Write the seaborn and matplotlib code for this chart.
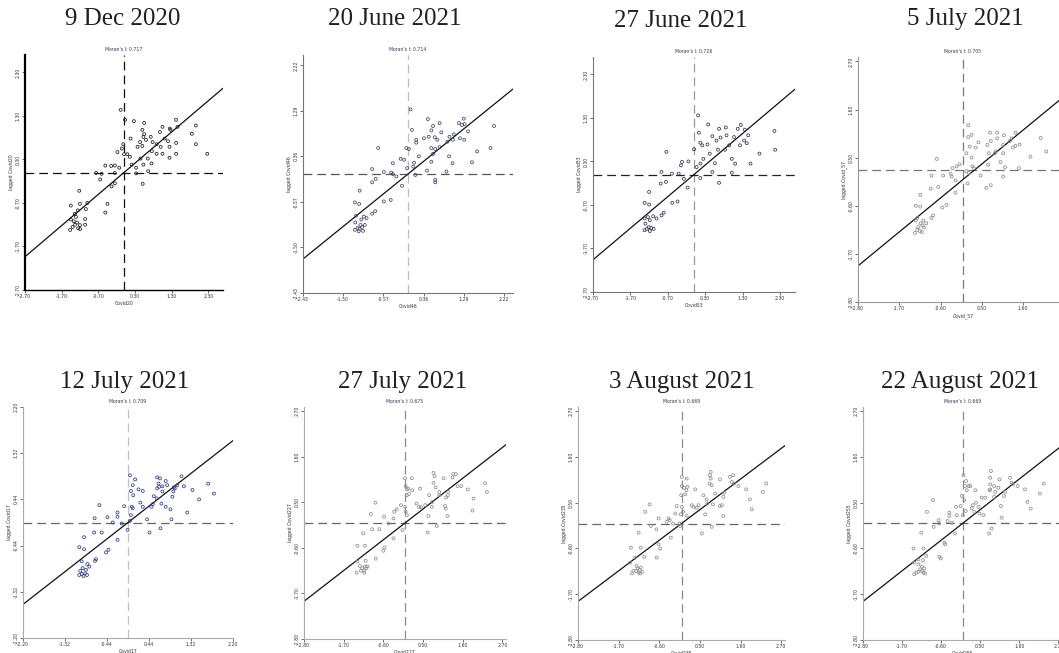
import matplotlib
matplotlib.use("Agg")
import matplotlib.pyplot as plt
import seaborn as sns
import pandas as pd

sns.set_style("ticks")
plt.rcParams['font.family'] = ['DejaVu Sans']

titles = ["9 Dec 2020", "20 June 2021", "27 June 2021", "5 July 2021",
          "12 July 2021", "27 July 2021", "3 August 2021", "22 August 2021"]
morans = [0.717, 0.714, 0.726, 0.705, 0.709, 0.675, 0.669, 0.669]
var_names = ["Covid20", "Covid46", "Covid53", "Covid_57",
             "Covid17", "Covid227", "Covid235", "Covid255"]
axis_limits = [2.70, 2.43, 2.70, 2.80, 2.20, 2.80, 2.80, 2.80]
tick_values = [
    [-2.70, -1.70, -0.70, 0.30, 1.30, 2.30],
    [-2.43, -1.50, -0.57, 0.36, 1.29, 2.22],
    [-2.70, -1.70, -0.70, 0.30, 1.30, 2.30],
    [-2.80, -1.70, -0.60, 0.50, 1.60, 2.70],
    [-2.20, -1.32, -0.44, 0.44, 1.32, 2.20],
    [-2.80, -1.70, -0.60, 0.50, 1.60, 2.70],
    [-2.80, -1.70, -0.60, 0.50, 1.60, 2.70],
    [-2.80, -1.70, -0.60, 0.50, 1.60, 2.70],
]
hline_values = [0.0, 0.0, 0.0, 0.22, 0.0, 0.0, 0.0, 0.02]

p1_points = [(-0.09,1.44),(0.03,1.21),(0.27,1.18),(0.55,1.14),(1.05,1.05),(1.42,1.21),(1.46,1.05),
    (1.25,1.01),(1.27,0.98),(1.96,1.08),(1.85,0.89),(1.96,0.65),(2.27,0.43),(0.50,0.98),(0.55,0.88),
    (0.53,0.82),(0.73,0.82),(0.60,0.75),(0.44,0.70),(0.18,0.78),(0.98,0.93),(1.11,0.78),(1.20,0.72),
    (0.78,0.70),(1.00,0.59),(1.24,0.59),(1.42,0.68),(0.89,0.65),(0.37,0.59),(0.50,0.61),(0.76,0.49),
    (0.89,0.43),(1.05,0.43),(1.24,0.34),(1.42,0.43),(-0.02,0.65),(0.00,0.42),(0.09,0.42),(0.16,0.36),
    (0.45,0.32),(0.65,0.32),(0.53,0.18),(0.75,0.21),(0.21,0.18),(0.33,0.11),(0.33,-0.02),(0.66,0.03),
    (0.51,-0.26),(-0.18,0.47),(-0.06,0.55),(-0.51,0.16),(-0.35,0.15),(-0.25,0.16),(-0.13,0.11),
    (-0.25,-0.01),(-0.76,-0.01),(-0.61,-0.03),(-0.65,-0.16),(-0.34,-0.32),(-0.25,-0.25),(-1.22,-0.42),
    (-1.20,-0.72),(-1.00,-0.70),(-1.45,-0.76),(-0.45,-0.72),(-0.51,-0.92),(-1.04,-0.84),(-1.26,-0.87),
    (-1.45,-1.08),(-1.34,-0.95),(-1.31,-1.02),(-1.37,-1.12),(-1.28,-1.15),(-1.20,-1.21),(-1.06,-1.07),
    (-1.06,-1.20),(-1.47,-1.32),(-1.40,-1.25),(-1.25,-1.28),(-1.20,-1.30),(-1.34,-1.20)]

p2_points = [(0.06,1.32),(0.09,0.90),(0.46,1.12),(0.73,1.04),(0.58,0.98),(0.54,0.89),(0.62,0.75),
    (0.68,0.70),(0.37,0.73),(0.19,0.70),(0.19,0.64),(0.48,0.76),(0.77,0.85),(0.91,0.66),(0.96,0.76),
    (1.06,0.81),(1.18,1.04),(1.29,1.13),(1.25,1.00),(1.31,1.02),(1.39,0.87),(1.20,0.73),(1.30,0.70),
    (1.04,0.70),(0.73,0.55),(0.54,0.53),(0.63,0.51),(0.58,0.41),(0.95,0.36),(1.03,0.22),(0.89,0.05),
    (0.44,0.07),(0.54,0.25),(0.63,-0.12),(0.63,-0.17),(0.25,0.36),(0.14,0.23),(0.12,0.15),(0.17,-0.02),
    (-0.04,0.53),(0.02,0.51),(-0.02,0.12),(-0.17,0.31),(-0.09,0.29),(-0.14,-0.24),(1.60,0.46),
    (1.48,0.24),(1.91,0.53),(1.99,0.98),(-0.69,0.53),(-0.35,0.22),(-0.39,0.03),(-0.35,0.00),
    (-0.56,0.04),(-0.27,-0.05),(-0.83,0.10),(-0.75,-0.10),(-0.83,-0.17),(-1.12,-0.34),(-0.56,-0.56),
    (-0.40,-0.53),(-1.23,-0.58),(-1.13,-0.61),(-0.76,-0.76),(-0.83,-0.81),(-1.20,-0.85),(-1.22,-0.99),
    (-1.23,-1.14),(-1.17,-1.10),(-1.12,-1.12),(-1.06,-1.08),(-1.08,-0.93),(-1.02,-0.87),(-0.96,-0.90),
    (-1.04,-1.16),(-1.14,-1.17),(-1.00,-1.04),(-1.10,-1.04)]

p3_points = [(0.11,1.36),(0.13,0.96),(0.38,1.15),(0.49,0.88),(0.67,1.05),(0.85,1.08),(0.60,0.78),
    (0.36,0.69),(0.17,0.73),(0.22,0.67),(0.87,0.90),(0.71,0.85),(1.07,0.86),(1.17,1.05),(1.25,1.14),
    (1.36,1.03),(1.45,0.90),(1.34,0.78),(1.23,0.67),(1.41,0.72),(0.94,0.67),(0.83,0.57),(0.64,0.57),
    (0.42,0.48),(0.56,0.26),(1.01,0.36),(1.10,0.25),(1.51,0.25),(1.75,0.48),(2.15,1.00),(2.17,0.57),
    (1.01,0.04),(0.67,-0.19),(0.49,0.06),(0.25,0.36),(0.17,0.25),(0.07,0.17),(0.17,-0.08),(0.00,0.58),
    (-0.15,0.30),(-0.35,0.21),(-0.32,0.29),(-0.27,-0.10),(-0.17,-0.30),(-0.41,0.02),(-0.59,0.02),
    (-0.74,0.52),(-0.87,0.06),(-0.89,-0.21),(-0.75,-0.17),(-0.44,-0.62),(-0.58,-0.65),(-1.20,-0.40),
    (-1.32,-0.65),(-1.20,-0.69),(-0.81,-0.88),(-0.87,-0.94),(-1.32,-1.01),(-1.23,-0.98),(-1.09,-0.96),
    (-1.00,-1.01),(-1.18,-1.05),(-1.30,-1.13),(-1.21,-1.21),(-1.32,-1.28),(-1.26,-1.25),(-1.14,-1.23),
    (-1.08,-1.25),(-1.18,-1.30)]

p4_points = [(0.14,1.24),(0.14,0.97),(0.23,1.02),(0.18,0.75),(0.09,0.60),(0.34,0.73),(0.23,0.50),
    (0.41,0.85),(0.25,0.30),(0.09,0.19),(0.16,0.15),(0.12,-0.09),(0.29,0.26),(0.72,1.07),(0.91,1.07),
    (1.09,1.01),(0.91,0.94),(0.65,0.79),(0.74,0.88),(0.87,0.64),(0.69,0.60),(0.85,0.60),(1.07,0.79),
    (1.30,0.94),(1.40,1.07),(1.33,0.73),(1.40,0.77),(1.51,0.80),(1.25,0.88),(1.07,0.60),(1.00,0.40),
    (1.12,0.28),(1.07,0.07),(1.49,0.26),(1.80,0.52),(2.07,0.95),(2.22,0.64),(0.67,0.34),(0.47,0.09),
    (0.62,-0.19),(0.74,-0.13),(-0.70,0.47),(-0.28,0.26),(-0.17,0.30),(-0.09,0.35),(-0.33,0.13),
    (-0.30,0.07),(-0.20,-0.02),(-0.20,-0.30),(-0.53,0.09),(-0.84,0.09),(-0.66,-0.17),(-0.86,-0.21),
    (-1.14,-0.35),(-0.55,-0.64),(-0.44,-0.58),(-0.80,-0.82),(-0.84,-0.88),(-1.26,-0.60),(-1.14,-0.62),
    (-1.26,-0.94),(-1.22,-0.88),(-1.06,-0.94),(-1.13,-1.00),(-0.98,-1.00),(-1.08,-1.05),(-1.28,-1.22),
    (-1.22,-1.15),(-1.15,-1.18),(-1.10,-1.20),(-1.19,-1.09),(-1.04,-1.10)]

p5_points = [(0.04,0.90),(0.10,0.71),(0.15,0.82),(0.22,0.63),(0.11,0.52),(0.06,0.60),(0.31,0.60),
    (0.08,0.30),(0.06,0.14),(0.10,0.27),(0.04,0.03),(0.26,0.38),(0.31,0.30),(0.40,0.06),(0.45,-0.19),
    (0.52,0.35),(0.54,0.50),(0.49,0.30),(0.61,0.86),(0.67,0.84),(0.64,0.74),(0.61,0.65),(0.65,0.68),
    (0.72,0.69),(0.72,0.59),(0.79,0.79),(0.82,0.71),(0.60,0.46),(0.70,0.36),(0.79,0.30),(0.89,0.25),
    (0.68,-0.11),(0.91,0.06),(0.93,0.49),(0.95,0.59),(0.98,0.65),(0.96,0.67),(1.03,0.71),(1.12,0.88),
    (1.17,0.69),(1.24,0.19),(1.35,0.62),(1.49,0.44),(1.68,0.74),(1.80,0.55),(-0.08,0.31),(-0.13,-0.02),
    (-0.01,-0.14),(-0.22,0.19),(-0.22,0.11),(-0.22,-0.33),(-0.32,0.00),(-0.60,0.33),(-0.43,0.10),
    (-0.70,0.08),(-0.71,-0.19),(-0.55,-0.19),(-0.92,-0.28),(-1.02,-0.47),(-0.92,-0.51),(-0.46,-0.57),
    (-0.41,-0.52),(-0.69,-0.73),(-0.67,-0.70),(-0.97,-0.74),(-0.85,-0.79),(-0.81,-0.84),(-0.88,-0.90),
    (-1.00,-0.92),(-0.95,-0.87),(-1.02,-1.00),(-0.97,-0.98),(-0.90,-0.97),(-0.86,-1.00),(-0.93,-1.02)]

p6_points = [(0.00,1.08),(0.02,0.89),(0.19,1.08),(0.05,0.81),(0.09,0.83),(0.05,0.67),(0.11,0.70),
    (0.20,0.79),(0.02,0.27),(0.05,0.19),(0.00,0.39),(-0.07,-0.17),(-0.11,0.43),(-0.23,0.33),(-0.30,0.27),
    (-0.32,0.11),(-0.32,-0.37),(-0.46,-0.01),(-0.58,0.15),(-0.82,0.49),(-0.95,0.22),(-0.91,-0.15),
    (-0.71,-0.15),(-1.16,-0.25),(-1.32,-0.55),(-1.11,-0.55),(-0.60,-0.67),(-0.57,-0.59),(-0.81,-0.86),
    (-1.32,-0.93),(-1.25,-1.04),(-1.19,-1.09),(-1.11,-1.05),(-1.34,-1.20),(-1.22,-1.15),(-1.13,-1.15),
    (-1.07,-1.09),(-1.09,-0.91),(-1.13,-1.20),(-1.04,-1.05),(0.32,0.47),(0.42,0.83),(0.39,0.39),
    (0.44,0.38),(0.56,0.43),(0.63,-0.23),(0.65,0.17),(0.67,0.67),(0.74,0.39),(0.76,0.51),(0.79,1.21),
    (0.82,1.13),(0.79,0.97),(0.85,0.86),(0.88,-0.07),(0.95,0.75),(0.95,0.67),(1.11,0.41),(1.13,0.35),
    (1.14,0.62),(1.19,0.67),(1.18,0.17),(1.07,1.08),(1.20,0.75),(1.32,1.10),(1.34,1.18),(1.41,1.18),
    (1.46,0.89),(1.56,0.89),(1.74,0.81),(1.87,0.30),(1.90,0.59),(2.22,0.96),(2.27,0.75)]

p7_points = [(0.01,1.12),(0.14,1.08),(0.01,0.90),(0.07,0.86),(0.13,0.80),(0.16,0.88),(-0.01,0.68),
    (0.10,0.70),(0.04,0.28),(-0.02,0.22),(0.01,0.40),(-0.04,-0.06),(-0.05,0.00),(-0.13,0.42),(-0.17,0.24),
    (-0.29,-0.34),(-0.35,0.12),(-0.40,0.04),(-0.32,0.08),(-0.23,0.00),(-0.62,0.12),(-0.68,-0.14),
    (-0.83,-0.06),(-0.98,0.28),(-0.86,0.46),(-1.16,-0.22),(-1.37,-0.58),(-1.10,-0.58),(-1.01,-0.80),
    (-1.25,-0.82),(-0.67,-0.82),(-0.62,-0.50),(-0.58,-0.60),(-1.39,-0.94),(-1.34,-1.20),(-1.30,-1.14),
    (-1.22,-1.14),(-1.19,-1.08),(-1.16,-1.18),(-1.13,-1.12),(-1.10,-1.06),(-1.07,-1.16),(-1.12,-1.20),
    (-1.22,-1.02),(0.28,0.44),(0.32,0.40),(0.37,0.82),(0.14,0.18),(0.41,0.38),(0.46,0.44),(0.55,-0.24),
    (0.59,0.68),(0.64,0.22),(0.68,0.58),(0.70,0.48),(0.76,0.96),(0.77,1.16),(0.79,1.24),(0.79,1.08),
    (0.82,0.92),(0.82,-0.08),(0.85,0.46),(0.91,0.72),(1.04,1.06),(1.04,0.42),(1.13,0.64),(1.15,0.74),
    (1.13,0.18),(1.09,0.44),(1.31,1.12),(1.40,1.16),(1.42,0.96),(1.36,1.00),(1.54,0.90),(1.75,0.82),
    (1.85,0.58),(1.90,0.34),(2.20,0.76),(2.29,0.96)]

p8_points = [(0.03,1.16),(0.10,1.02),(0.07,0.90),(0.12,0.80),(0.22,0.90),(-0.02,0.66),(0.05,0.56),
    (0.09,0.30),(0.01,0.20),(-0.05,0.42),(-0.16,0.20),(-0.18,0.40),(-0.21,-0.24),(-0.30,0.02),
    (-0.37,0.26),(-0.37,0.18),(-0.42,0.06),(-0.49,-0.50),(-0.51,-0.46),(-0.67,0.08),(-0.66,0.00),
    (-0.81,-0.08),(-0.83,0.56),(-1.00,0.28),(-1.16,-0.22),(-0.65,-0.80),(-0.61,-0.84),(-1.38,-0.60),
    (-1.10,-0.60),(-1.24,-0.86),(-1.36,-0.94),(-1.02,-0.78),(-1.11,-0.88),(-1.24,-0.98),(-1.19,-1.10),
    (-1.30,-1.18),(-1.36,-1.22),(-1.24,-1.16),(-1.14,-1.14),(-1.08,-1.08),(-1.10,-1.18),(-1.05,-1.20),
    (-1.14,-1.04),(0.17,0.90),(0.26,0.36),(0.29,0.44),(0.33,0.28),(0.38,0.50),(0.36,0.80),(0.45,0.40),
    (0.48,0.24),(0.54,0.62),(0.59,0.20),(0.64,0.62),(0.75,-0.24),(0.78,1.10),(0.78,0.94),(0.78,0.82),
    (0.80,1.26),(0.76,0.80),(0.82,-0.12),(0.89,0.64),(0.89,0.90),(0.92,0.76),(1.01,0.86),(1.04,1.06),
    (1.08,0.42),(1.10,0.14),(1.17,0.66),(1.20,0.76),(1.34,1.10),(1.38,0.98),(1.41,0.94),(1.55,0.90),
    (1.76,0.82),(1.83,0.52),(1.92,0.36),(2.18,0.72),(2.29,0.96)]

all_points = [p1_points, p2_points, p3_points, p4_points,
              p5_points, p6_points, p7_points, p8_points]

# styling per panel
point_colors = ["#1a1a1a", "#3c4660", "#2e3550", "#8a8a8a",
                "#2b3a8a", "#8c8c8c", "#8c8c8c", "#8c8c8c"]
vline_colors = ["#111111", "#bdbdbd", "#9a9a9a", "#7a7a7a",
                "#c0c0c0", "#8a8a8a", "#8a8a8a", "#8a8a8a"]
hline_colors = ["#111111", "#555555", "#222222", "#777777",
                "#666666", "#666666", "#666666", "#666666"]
spine_colors = ["#000000", "#777777", "#777777", "#999999",
                "#aaaaaa", "#aaaaaa", "#aaaaaa", "#aaaaaa"]

W, H = 1059, 653
# pixel rects: left, top, right, bottom
rects = [(25, 55, 223, 290), (303, 55, 513, 293), (593, 57, 795, 292), (858, 57, 1068, 302),
         (23, 407, 233, 638), (304, 407, 506, 639), (578, 407, 785, 640), (863, 407, 1062, 640)]
title_pos = [(123, 19), (395, 19), (681, 21), (965, 19),
             (125, 382), (403, 382), (682, 382), (960, 382)]

fig = plt.figure(figsize=(W / 100, H / 100), dpi=100)

for i in range(8):
    l, t, r, b = rects[i]
    ax = fig.add_axes([l / W, 1 - b / H, (r - l) / W, (b - t) / H])
    df = pd.DataFrame(all_points[i], columns=["x", "y"])
    L = axis_limits[i]
    ax.set_xlim(-L, L)
    ax.set_ylim(-L, L)
    ax.axvline(0, color=vline_colors[i], lw=0.9, ls=(0, (7, 4)), zorder=1)
    ax.axhline(hline_values[i], color=hline_colors[i], lw=0.9, ls=(0, (7, 4)), zorder=1)
    sns.scatterplot(data=df, x="x", y="y", ax=ax, marker="o", s=4.5,
                    color=point_colors[i], facecolor="none",
                    edgecolor=point_colors[i], linewidth=0.55, zorder=3)
    ax.axline((0, 0), slope=morans[i], color="#111111", lw=0.9, zorder=2)
    ticks = tick_values[i]
    labels = [f"{v:.2f}" for v in ticks]
    ax.set_xticks(ticks)
    ax.set_xticklabels(labels)
    ax.set_yticks(ticks)
    ax.set_yticklabels(labels, rotation=90, va="center")
    ax.tick_params(axis="both", labelsize=3.3, length=2, width=0.5, pad=1,
                   colors="#333333")
    ax.set_xlabel(var_names[i], fontsize=3.3, labelpad=1.5, color="#333333")
    ax.set_ylabel("lagged " + var_names[i], fontsize=3.3, labelpad=1.5, color="#333333")
    ax.set_title(f"Moran's I: {morans[i]:.3f}", fontsize=3.3, pad=3,
                 color="#333355")
    for side in ["top", "right"]:
        ax.spines[side].set_visible(False)
    ax.spines["left"].set_color(spine_colors[i])
    ax.spines["bottom"].set_color(spine_colors[i])
    ax.spines["left"].set_linewidth(1.6 if i == 0 else 0.8)
    ax.spines["bottom"].set_linewidth(1.0 if i == 0 else 0.8)
    ax.set_facecolor("white")
    tx, ty = title_pos[i]
    fig.text(tx / W, 1 - ty / H, titles[i], ha="center", va="center",
             fontsize=18, family=["Liberation Serif", "DejaVu Serif"], color="#231f20")

fig.savefig("out.png", dpi=100, facecolor="white")
